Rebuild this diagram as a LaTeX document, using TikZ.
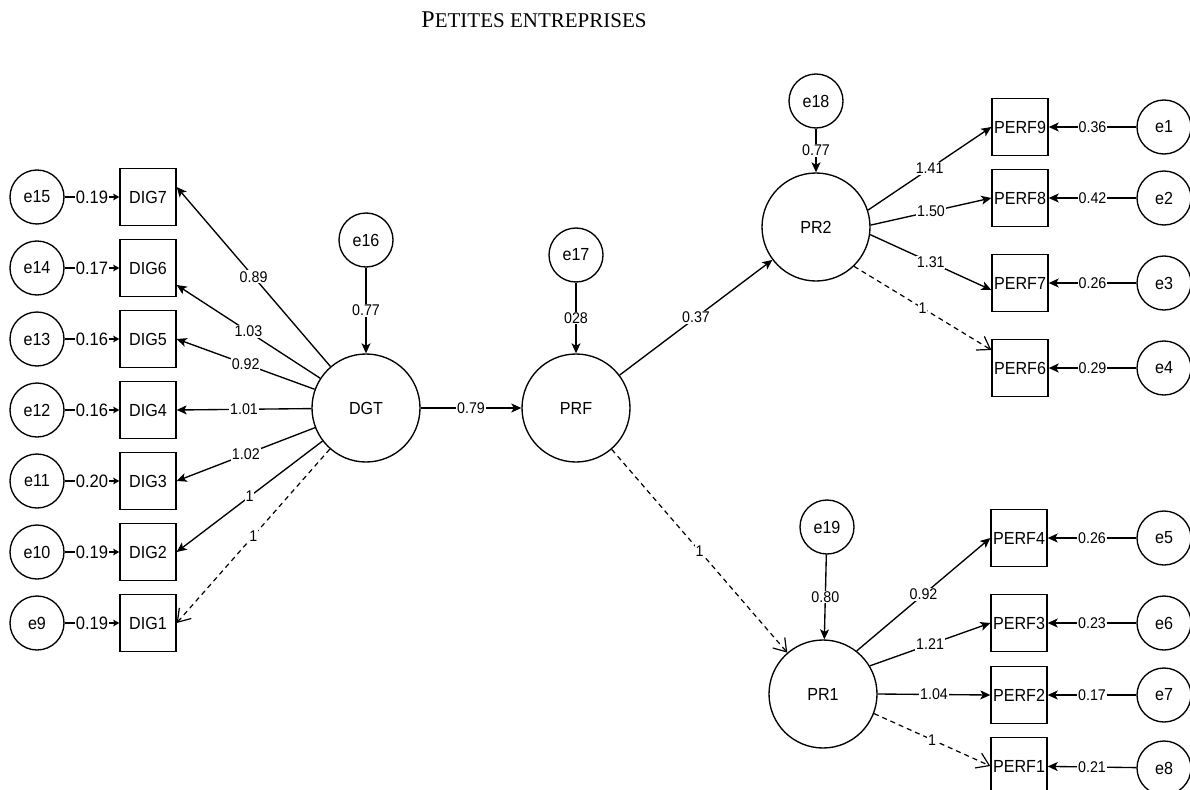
\documentclass[tikz,border=0pt]{standalone}
\usepackage{fontspec}
\setmainfont{Liberation Serif}
\newfontfamily\semfont[FakeStretch=0.92]{Liberation Sans}
\usetikzlibrary{arrows.meta}

\tikzset{
  latent/.style={circle, draw, line width=1.35pt, minimum size=108pt, inner sep=0pt,
    font=\semfont\fontsize{17.5}{17.5}\selectfont},
  errc/.style={circle, draw, line width=1.35pt, minimum size=54pt, inner sep=0pt,
    font=\semfont\fontsize{17.5}{17.5}\selectfont},
  obs/.style={rectangle, draw, line width=1.35pt, minimum width=56pt, minimum height=57pt,
    inner sep=0pt, font=\semfont\fontsize{17.5}{17.5}\selectfont},
  lbl/.style={fill=white, inner sep=0.8pt, font=\semfont\fontsize{15.5}{15.5}\selectfont},
  biglbl/.style={fill=white, inner sep=0.5pt, font=\semfont\fontsize{18}{18}\selectfont},
  reg/.style={line width=1.35pt, -{Stealth[length=10pt,width=9pt,inset=2.5pt]}},
  smallreg/.style={line width=1.35pt, -{Stealth[length=6pt,width=6.5pt,inset=1pt]}},
  fixedpath/.style={line width=1.2pt, dash pattern=on 5pt off 4pt,
    -{Straight Barb[length=12pt,width=16pt,line width=1.2pt]}},
}

\begin{document}
\begin{tikzpicture}[x=1pt,y=-1pt]
\useasboundingbox (0,0) rectangle (1190,789);
\clip (0,0) rectangle (1190,789);

% title
\node[anchor=base] (title) at (534,28)
  {\fontsize{24}{24}\selectfont P\fontsize{21}{21}\selectfont ETITES ENTREPRISES};

% latent variables
\node[latent] (DGT) at (366,408) {DGT};
\node[latent] (PRF) at (576,408) {PRF};
\node[latent] (PR2) at (816,227) {PR2};
\node[latent] (PR1) at (823,694) {PR1};

% disturbances of the latent variables
\node[errc] (e16) at (366,240) {e16};
\node[errc] (e17) at (576,255) {e17};
\node[errc] (e18) at (816,101) {e18};
\node[errc] (e19) at (827,527) {e19};

% digital indicators
\node[obs] (DIG7) at (148,197) {DIG7};
\node[obs] (DIG6) at (148,268) {DIG6};
\node[obs] (DIG5) at (148,339) {DIG5};
\node[obs] (DIG4) at (148,410) {DIG4};
\node[obs] (DIG3) at (148,481) {DIG3};
\node[obs] (DIG2) at (148,552) {DIG2};
\node[obs] (DIG1) at (148,623) {DIG1};

\node[errc] (e15) at (37,197) {e15};
\node[errc] (e14) at (37,268) {e14};
\node[errc] (e13) at (37,339) {e13};
\node[errc] (e12) at (37,410) {e12};
\node[errc] (e11) at (37,481) {e11};
\node[errc] (e10) at (37,552) {e10};
\node[errc] (e9)  at (37,623) {e9};

% performance indicators
\node[obs] (PERF9) at (1020,127) {PERF9};
\node[obs] (PERF8) at (1020,198) {PERF8};
\node[obs] (PERF7) at (1020,283) {PERF7};
\node[obs] (PERF6) at (1020,368) {PERF6};
\node[obs] (PERF4) at (1019,538) {PERF4};
\node[obs] (PERF3) at (1019,623) {PERF3};
\node[obs] (PERF2) at (1019,695) {PERF2};
\node[obs] (PERF1) at (1019,766) {PERF1};

\node[errc] (e1) at (1164,127) {e1};
\node[errc] (e2) at (1164,198) {e2};
\node[errc] (e3) at (1164,283) {e3};
\node[errc] (e4) at (1164,368) {e4};
\node[errc] (e5) at (1164,538) {e5};
\node[errc] (e6) at (1164,623) {e6};
\node[errc] (e7) at (1164,695) {e7};
\node[errc] (e8) at (1164,768) {e8};

% measurement errors of the digital indicators
\draw[smallreg] (e15) -- node[biglbl]{0.19} (DIG7);
\draw[smallreg] (e14) -- node[biglbl]{0.17} (DIG6);
\draw[smallreg] (e13) -- node[biglbl]{0.16} (DIG5);
\draw[smallreg] (e12) -- node[biglbl]{0.16} (DIG4);
\draw[smallreg] (e11) -- node[biglbl]{0.20} (DIG3);
\draw[smallreg] (e10) -- node[biglbl]{0.19} (DIG2);
\draw[smallreg] (e9)  -- node[biglbl]{0.19} (DIG1);

% loadings of DGT
\draw[reg] (DGT) -- node[lbl]{0.89} ([yshift=10pt]DIG7.east);
\draw[reg] (DGT) -- node[lbl]{1.03} ([yshift=-17pt]DIG6.east);
\draw[reg] (DGT) -- node[lbl]{0.92} (DIG5.east);
\draw[reg] (DGT) -- node[lbl]{1.01} (DIG4.east);
\draw[reg] (DGT) -- node[lbl]{1.02} (DIG3.east);
\draw[reg] (DGT) -- node[lbl]{1} (DIG2.east);
\draw[fixedpath] (DGT) -- node[lbl]{1} (DIG1.east);

% structural paths
\draw[reg] (e16) -- node[lbl]{0.77} (DGT);
\draw[reg] (e17) -- node[lbl]{028} (PRF);
\draw[reg] (DGT) -- node[lbl]{0.79} (PRF);
\draw[reg] (PRF) -- node[lbl]{0.37} (PR2);
\draw[fixedpath] (PRF) -- node[lbl]{1} (PR1);
\draw[reg] (e18) -- node[lbl]{0.77} (PR2);
\draw[reg] (e19) -- node[lbl]{0.80} (PR1);

% loadings of PR2
\draw[reg] (PR2.18) -- node[lbl]{1.41} (PERF9.west);
\draw[reg] (PR2.2) -- node[lbl]{1.50} (PERF8.west);
\draw[reg] (PR2.-8) -- node[lbl]{1.31} ([yshift=-7pt]PERF7.west);
\draw[fixedpath] (PR2.-46) -- node[lbl]{1} ([yshift=18pt]PERF6.west);

% loadings of PR1
\draw[reg] (PR1.52) -- node[lbl]{0.92} (PERF4.west);
\draw[reg] (PR1.31) -- node[lbl]{1.21} (PERF3.west);
\draw[reg] (PR1.east) -- node[lbl]{1.04} (PERF2.west);
\draw[fixedpath] (PR1.-21) -- node[lbl]{1} (PERF1.west);

% measurement errors of the performance indicators
\draw[reg] (e1) -- node[lbl]{0.36} (PERF9);
\draw[reg] (e2) -- node[lbl]{0.42} (PERF8);
\draw[reg] (e3) -- node[lbl]{0.26} (PERF7);
\draw[reg] (e4) -- node[lbl]{0.29} (PERF6);
\draw[reg] (e5) -- node[lbl]{0.26} (PERF4);
\draw[reg] (e6) -- node[lbl]{0.23} (PERF3);
\draw[reg] (e7) -- node[lbl]{0.17} (PERF2);
\draw[reg] (e8) -- node[lbl]{0.21} (PERF1);
\end{tikzpicture}
\end{document}
